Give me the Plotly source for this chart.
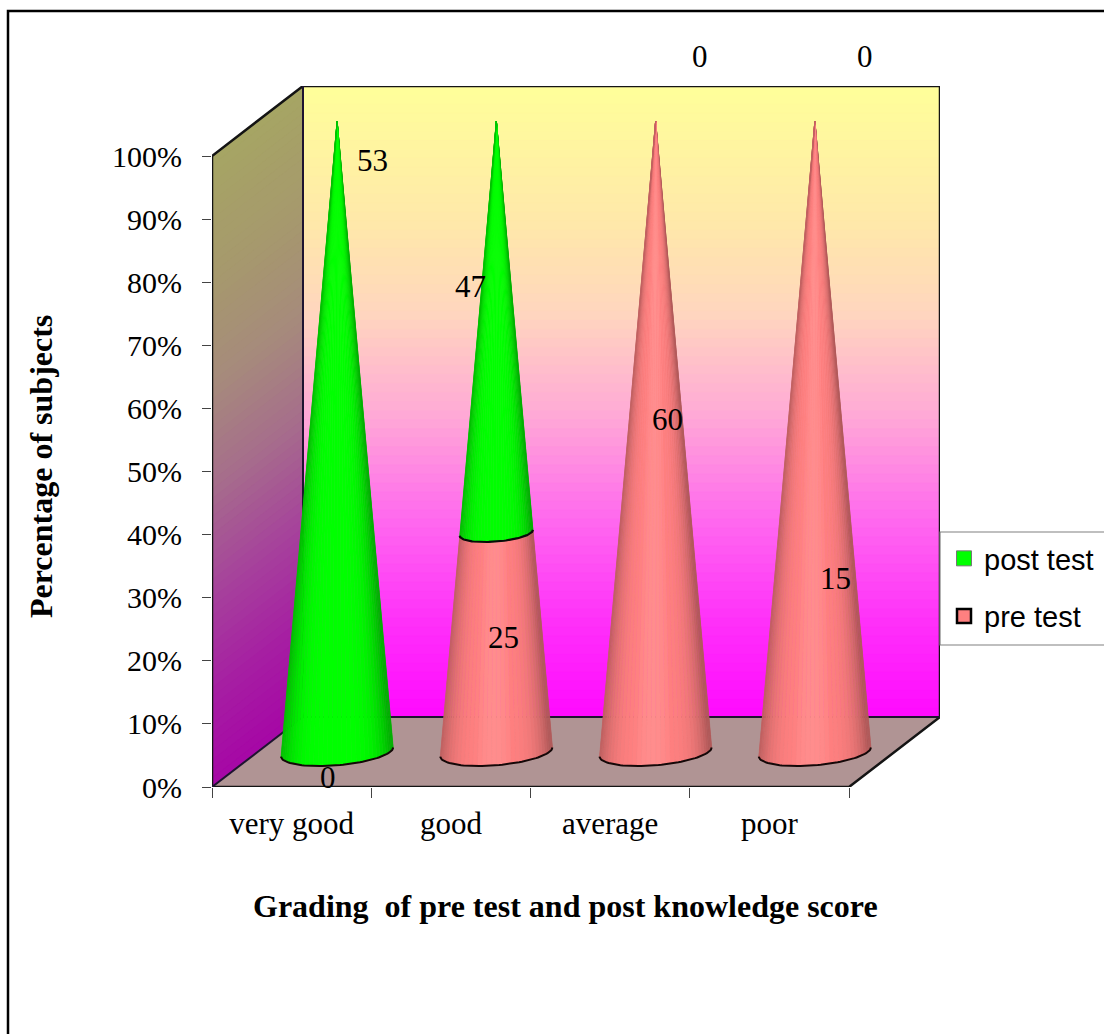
import math
import plotly.graph_objects as go

# Chart data
categories = ["very good", "good", "average", "poor"]
pre_test = [0, 25, 60, 15]
post_test = [53, 47, 0, 0]
y_ticks = [0, 10, 20, 30, 40, 50, 60, 70, 80, 90, 100]

# Page and plot geometry, in pixels
W, H = 1104, 1034
LEFT, RIGHT, TOP, BOTTOM = 212, 849, 156, 787
BACK_DX, BACK_DY = 91, 70
N_CAT = len(categories)
PX_PER_X = (RIGHT - LEFT) / N_CAT
PX_PER_Y = (BOTTOM - TOP) / 100
DEPTH_X = BACK_DX / PX_PER_X   # sideways shift of the back wall, in x units
DEPTH_Y = BACK_DY / PX_PER_Y   # upward shift of the back wall, in y units
CONE_RX = 53 / PX_PER_X        # base radius along the x axis
CONE_RD = 0.20                 # base radius along the depth axis, as a share of the depth

SERIF = "Liberation Serif"
SANS = "Liberation Sans"
GREEN = (0, 255, 0)
PINK = (255, 128, 128)


def project(x, y, d):
    """Oblique projection: depth d (0 front, 1 back) shifts a point along both axes."""
    return x + d * DEPTH_X, y + d * DEPTH_Y


def paper_x(px):
    return px / W


def paper_y(px):
    return 1 - px / H


wall_stops = [
    (0.00, (255, 255, 153)),
    (0.22, (255, 232, 170)),
    (0.36, (255, 214, 190)),
    (0.52, (255, 170, 214)),
    (0.70, (255, 100, 240)),
    (0.86, (255, 45, 250)),
    (1.00, (255, 10, 255)),
]


def wall_colour(v, scale=1.0):
    for (a, ca), (b, cb) in zip(wall_stops, wall_stops[1:]):
        if v <= b:
            t = (v - a) / (b - a)
            break
    mix = [(ca[i] + (cb[i] - ca[i]) * t) * scale for i in range(3)]
    return "rgb(%d,%d,%d)" % tuple(round(c) for c in mix)


def polygon(points, colour, line_colour=None, line_width=1.0):
    xs, ys = zip(*points)
    return go.Scatter(
        x=list(xs) + [xs[0]], y=list(ys) + [ys[0]], mode="lines", fill="toself",
        fillcolor=colour, line=dict(color=line_colour or colour, width=line_width),
        cliponaxis=False, showlegend=False, hoverinfo="skip",
    )


def polyline(points, colour="#141414", width=2.0):
    xs, ys = zip(*points)
    return go.Scatter(
        x=list(xs), y=list(ys), mode="lines", line=dict(color=colour, width=width),
        cliponaxis=False, showlegend=False, hoverinfo="skip",
    )


def ring_point(i, level, t):
    """Point on the cone surface at fraction `level` of its height and angle t."""
    r = 1 - level
    cx = i + 0.5 + r * CONE_RX * math.cos(t)
    d = 0.5 + r * CONE_RD * math.sin(t)
    return project(cx, level * 100, d)


def shade(base, u):
    """Darken a cone colour towards its silhouette; u runs from -1 to 1 across it."""
    edge = abs(u + 0.05)
    k = 1 - 0.30 * min(edge, 1) ** 4
    lift = 0.10 * max(0, 1 - (edge / 0.35) ** 2)
    rgb = [min(255, c * k + (255 - c) * lift * (1 if 0 < c < 255 else 0)) for c in base]
    return "rgb(%d,%d,%d)" % tuple(round(c) for c in rgb)


def silhouette_angle():
    """Angle where the projected base ellipse reaches its rightmost point."""
    a = CONE_RX * PX_PER_X
    b = CONE_RD * BACK_DX
    return math.atan2(b, a), math.hypot(a, b), a, b


def cone_segment(i, low, high, base, bands=36):
    """Visible surface between two height fractions, as narrow vertical bands."""
    t0, span, a, b = silhouette_angle()
    traces = []
    for k in range(bands):
        t1 = t0 - math.pi * k / bands
        t2 = t0 - math.pi * (k + 1) / bands
        mid = (t1 + t2) / 2
        u = (a * math.cos(mid) + b * math.sin(mid)) / span
        pts = [ring_point(i, low, t1), ring_point(i, low, t2),
               ring_point(i, high, t2), ring_point(i, high, t1)]
        traces.append(polygon(pts, shade(base, u), line_width=0.6))
    return traces


def ring_arc(i, level):
    t0 = silhouette_angle()[0]
    return [ring_point(i, level, t0 - math.pi * k / 60) for k in range(61)]


fig = go.Figure()

# Side wall: gradient bands that run along the wall's depth
BANDS = 70
for k in range(BANDS):
    y0, y1 = 100 * (1 - (k + 1.15) / BANDS), 100 * (1 - k / BANDS)
    fig.add_trace(polygon(
        [project(0, y0, 0), project(0, y0, 1), project(0, y1, 1), project(0, y1, 0)],
        wall_colour((k + 0.5) / BANDS, 0.65), line_width=0.3,
    ))

# Back wall
for k in range(BANDS):
    y0, y1 = 100 * (1 - (k + 1.15) / BANDS), 100 * (1 - k / BANDS)
    fig.add_trace(polygon(
        [project(0, y0, 1), project(N_CAT, y0, 1), project(N_CAT, y1, 1), project(0, y1, 1)],
        wall_colour((k + 0.5) / BANDS), line_width=0.3,
    ))

# Floor
fig.add_trace(polygon(
    [project(0, 0, 0), project(N_CAT, 0, 0), project(N_CAT, 0, 1), project(0, 0, 1)],
    "rgb(176,148,148)", line_width=0.3,
))

# Wall and floor outlines
fig.add_trace(polyline([project(0, 0, 0), project(0, 100, 0), project(0, 100, 1),
                        project(N_CAT, 100, 1), project(N_CAT, 0, 1), project(N_CAT, 0, 0),
                        project(0, 0, 0)], width=2.5))
fig.add_trace(polyline([project(0, 100, 1), project(0, 0, 1), project(N_CAT, 0, 1)], "#1e1430", 2.0))
fig.add_trace(polyline([project(0, 0, 0), project(0, 0, 1)], "#1e1430", 2.0))

# Stacked cones: each column is normalised to 100 %, pre test below post test
for i, (pre, post) in enumerate(zip(pre_test, post_test)):
    split = pre / (pre + post)
    if pre:
        for tr in cone_segment(i, 0, split, PINK):
            fig.add_trace(tr)
    if post:
        for tr in cone_segment(i, split, 1, GREEN):
            fig.add_trace(tr)
    fig.add_trace(polyline(ring_arc(i, 0), "#140808", 2.0))
    if 0 < split < 1:
        fig.add_trace(polyline(ring_arc(i, split), "#0a0a0a", 2.2))

# Legend entries
fig.add_trace(go.Scatter(
    x=[None], y=[None], mode="markers", name="post test", legendgroup="post",
    marker=dict(symbol="square", size=15, color="rgb(0,255,0)", line=dict(color="#777777", width=1)),
))
fig.add_trace(go.Scatter(
    x=[None], y=[None], mode="markers", name="pre test", legendgroup="pre",
    marker=dict(symbol="square", size=14, color="rgb(255,128,128)", line=dict(color="#000000", width=2.5)),
))

# Value labels sit wherever the stack leaves room for them
post_label_px = [(372, 161), (470, 286), (700, 57), (865, 57)]
pre_label_px = [(328, 777), (503, 637), (667, 420), (835, 578)]
annotations = []
for values, places in ((post_test, post_label_px), (pre_test, pre_label_px)):
    for value, (px, py) in zip(values, places):
        annotations.append(dict(
            x=paper_x(px), y=paper_y(py), xref="paper", yref="paper", text=str(value),
            showarrow=False, xanchor="center", yanchor="middle",
            font=dict(family=SERIF, size=31, color="black"),
        ))

shapes = [
    # Outer frame, open past the right and bottom page edges
    dict(type="rect", xref="paper", yref="paper", x0=paper_x(8), y0=paper_y(1050),
         x1=paper_x(1120), y1=paper_y(11), line=dict(color="black", width=2.5)),
    # Legend box
    dict(type="rect", xref="paper", yref="paper", x0=paper_x(940), y0=paper_y(645),
         x1=paper_x(1120), y1=paper_y(532), fillcolor="white", line=dict(color="#808080", width=1.2)),
]

fig.update_layout(
    width=W, height=H, margin=dict(l=0, r=0, t=0, b=0), autosize=False,
    paper_bgcolor="white", plot_bgcolor="rgba(0,0,0,0)",
    hovermode=False, shapes=shapes, annotations=annotations,
    showlegend=True,
    legend=dict(
        x=paper_x(944), y=paper_y(533), xanchor="left", yanchor="top",
        bgcolor="rgba(0,0,0,0)", borderwidth=0, tracegroupgap=17,
        font=dict(family=SANS, size=29, color="black"), itemwidth=30,
    ),
    # The axes also span the depth of the box, so walls and floor stay inside the plot area
    xaxis=dict(
        domain=[paper_x(LEFT), paper_x(RIGHT + BACK_DX)], range=[0, N_CAT + DEPTH_X],
        showgrid=False, zeroline=False, showline=False, automargin=False,
        tickmode="array", tickvals=[i + 0.5 for i in range(N_CAT)], ticktext=categories,
        ticks="", ticklabelstandoff=15,
        tickfont=dict(family=SERIF, size=31, color="black"),
        minor=dict(tickmode="array", tickvals=list(range(N_CAT + 1)), ticks="outside", ticklen=10,
                   tickcolor="#444444", tickwidth=1.2),
    ),
    yaxis=dict(
        domain=[paper_y(BOTTOM), paper_y(TOP - BACK_DY)], range=[0, 100 + DEPTH_Y],
        showgrid=False, zeroline=False, showline=False, automargin=False,
        tickmode="array", tickvals=y_ticks, ticktext=["%d%%" % v for v in y_ticks],
        ticks="outside", ticklen=9, tickcolor="#444444", tickwidth=1.2, ticklabelstandoff=14,
        tickfont=dict(family=SERIF, size=30, color="black"),
    ),
)

# Axis captions
fig.add_annotation(x=paper_x(565), y=paper_y(906), xref="paper", yref="paper", showarrow=False,
                   xanchor="center", yanchor="middle",
                   text="<b>Grading  of pre test and post knowledge score</b>",
                   font=dict(family=SERIF, size=32, color="black"))
fig.add_annotation(x=paper_x(41), y=paper_y(467), xref="paper", yref="paper", showarrow=False,
                   xanchor="center", yanchor="middle",
                   textangle=-90, text="<b>Percentage of subjects</b>",
                   font=dict(family=SERIF, size=32, color="black"))

fig.write_html("out.html")
